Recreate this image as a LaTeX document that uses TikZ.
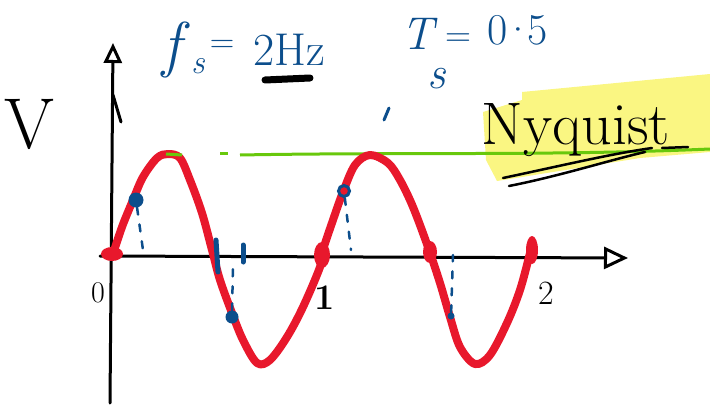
\documentclass[tikz,border=0pt]{standalone}
\usepackage{fontspec}
\usepackage{tikz}
\usetikzlibrary{arrows.meta,shapes}
\definecolor{inkblue}{RGB}{12,78,140}
\definecolor{inkred}{RGB}{232,24,44}
\definecolor{inkgreen}{RGB}{104,200,12}
\definecolor{hilite}{RGB}{250,246,130}
\tikzstyle{axis}=[line width=3pt,black,line cap=round]
\tikzstyle{wave}=[line width=8pt,inkred,line cap=round,line join=round]
\tikzstyle{drop}=[line width=2.5pt,inkblue,line cap=round,dash pattern=on 7pt off 10pt]
\tikzstyle{sample}=[circle,fill=inkblue,inner sep=0pt,minimum size=13pt]
\tikzstyle{blob}=[ellipse,fill=inkred,inner sep=0pt]
\tikzstyle{bluetext}=[inkblue,inner sep=0pt]
\tikzstyle{handtext}=[black,inner sep=0pt]

\begin{document}
\begin{tikzpicture}[x=1pt,y=-1pt]
\useasboundingbox (0,0) rectangle (710,407);
\fill[hilite] (483,112) -- (522,100) -- (522,92) -- (710,74) -- (710,152) -- (640,158) -- (497,181) -- (486,160) -- cycle;
\draw[inkgreen,line width=3pt] (240,155) .. controls (400,152) and (550,156) .. (710,149);
\node[bluetext,font=\fontsize{62}{64}\selectfont\itshape] (f) at (172,50) {f};
\node[bluetext,font=\fontsize{34}{36}\selectfont\itshape] (fsub) at (198,66) {s};
\node[bluetext,font=\fontsize{34}{36}\selectfont] (eqa) at (222,46) {=};
\node[bluetext,font=\fontsize{46}{48}\selectfont] (hz) at (289,50) {2Hz};
\draw[line width=7pt,line cap=round] (265,80) -- (310,78);
\node[bluetext,font=\fontsize{46}{48}\selectfont\itshape] (tee) at (418,34) {T};
\node[bluetext,font=\fontsize{46}{48}\selectfont\itshape] (tsub) at (437,79) {s};
\node[bluetext,font=\fontsize{36}{38}\selectfont] (eqb) at (458,40) {=};
\node[bluetext,font=\fontsize{44}{46}\selectfont] (val) at (518,30) {0\kern-6pt·\kern-6pt5};
\draw[inkblue,line width=3pt,line cap=round] (384,120) -- (389,108);
\node[handtext,font=\fontsize{72}{74}\selectfont] (vee) at (29,124) {V};
\node[handtext,font=\fontsize{60}{62}\selectfont] (nyq) at (576,130) {Nyquist};
\draw[line width=2.5pt,line cap=round] (503,178) .. controls (560,166) and (610,154) .. (652,148);
\draw[line width=2.5pt,line cap=round] (509,186) .. controls (560,176) and (610,160) .. (645,152);
\draw[line width=2.5pt,line cap=round] (662,148) -- (688,147);
\coordinate (ys) at (110,403);\coordinate (ye) at (113,43);
\coordinate (xs) at (100,256);\coordinate (xe) at (628,258);
\draw[axis,-{Triangle[open,length=20pt,width=18pt]}] (ys) -- (ye);
\draw[axis,-{Triangle[open,length=24pt,width=22pt]}] (xs) -- (xe);
\draw[axis] (113,95) -- (121,122);
\node[handtext,font=\fontsize{30}{32}\selectfont] (zero) at (98,293) {0};
\node[handtext,font=\fontsize{36}{38}\selectfont\bfseries] (one) at (325,298) {1};
\node[handtext,font=\fontsize{34}{36}\selectfont] (two) at (546,293) {2};
\draw[wave] plot[smooth,tension=0.55] coordinates {(112,257) (122,227) (133,200) (143,177) (157,158) (168,154) (180,158) (190,180) (202,213) (212,250) (220,280) (232,313) (243,340) (257,363) (270,360) (287,337) (303,307) (320,267) (323,250) (333,220) (343,192) (355,165) (370,155) (388,163) (400,180) (413,207) (428,247) (440,283) (450,317) (460,347) (475,364) (490,355) (507,323) (520,290) (530,253) (532,243)};
\draw[inkgreen,line width=3pt] (166,154) -- (182,155);\draw[inkgreen,line width=3pt] (220,153) -- (228,153);
\node[blob,minimum width=22pt,minimum height=14pt] (z0) at (112,254) {};
\node[blob,minimum width=16pt,minimum height=26pt] (z1) at (322,255) {};
\node[blob,minimum width=14pt,minimum height=22pt] (z2) at (430,252) {};
\node[blob,minimum width=12pt,minimum height=28pt] (z3) at (532,250) {};
\draw[inkblue,line width=5pt,line cap=round] (216,240) -- (218,272);\draw[inkblue,line width=5pt,line cap=round] (243,245) -- (243,262);
\node[sample,minimum size=15pt] (s1) at (136,200) {};
\node[sample] (s2) at (232,317) {};
\node[sample,fill=inkred,draw=inkblue,line width=3pt,minimum size=11pt] (s3) at (344,191) {};
\node[sample,minimum size=7pt] (s4) at (451,316) {};
\coordinate (d1) at (143,250);\coordinate (d2) at (233,262);\coordinate (d3) at (351,250);\coordinate (d4) at (453,255);
\draw[drop] (s1) -- (d1);\draw[drop] (s2) -- (d2);\draw[drop] (s3) -- (d3);\draw[drop] (s4) -- (d4);
\end{tikzpicture}
\end{document}
